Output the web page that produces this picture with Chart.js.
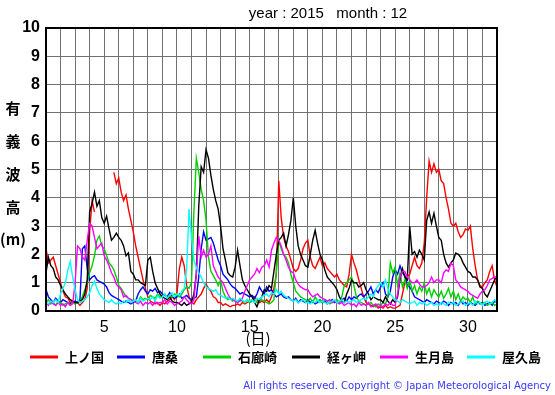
<!DOCTYPE html>
<html>
<head>
<meta charset="utf-8">
<script src="https://cdn.jsdelivr.net/npm/chart.js@4.4.0/dist/chart.umd.min.js"></script>
<style>
  html, body { margin: 0; padding: 0; background: #fff; }
  #wrap { width: 555px; height: 395px; position: relative; }
</style>
</head>
<body>
<div id="wrap"><canvas id="g1" width="555" height="395"></canvas></div>
<script>
// 4時間ごとの値 (1日 0時 から 32日 0時)
const stations = ['上ノ国', '唐桑', '石廊崎', '経ヶ岬', '生月島', '屋久島'];
const colors = ['#ff0000', '#0000ff', '#00d000', '#000000', '#ff00ff', '#00ffff'];
const yTicks = [0, 1, 2, 3, 4, 5, 6, 7, 8, 9, 10];
const xTickLabels = [5, 10, 15, 20, 25, 30];

const kaminokuni = [
  2.2, 1.7, 1.8, 1.9, 1.6, 1.3,
  1.0, 0.7, 0.5, 0.45, 0.3, 0.35,
  0.25, 0.3, 0.2, 0.3, 0.4, 0.8,
  2.8, 3.9, 3.5, null, null, null,
  null, null, null, null, 4.9, 4.5,
  4.7, 4.2, 3.9, 4.1, 3.6, 3.2,
  2.8, 2.3, 1.9, 1.5, 1.1, 0.8,
  0.5, 0.35, 0.3, 0.25, 0.3, 0.2,
  0.3, 0.25, 0.35, 0.4, 0.5, 0.4,
  0.6, 1.5, 1.9, 1.6, 0.9, 0.5,
  0.3, 0.25, 0.4, 0.5, 0.6, 0.8,
  0.95, 0.8, 0.7, 0.5, 0.45, 0.3,
  0.3, 0.2, 0.25, 0.2, 0.15, 0.2,
  0.2, 0.25, 0.2, 0.3, 0.25, 0.3,
  0.35, 0.4, 0.5, 0.4, 0.3, 0.35,
  0.3, 0.4, 0.3, 0.5, 0.8, 1.3,
  4.6, 3.3, 2.6, 2.3, 2.1, 1.8,
  1.5, 1.4, 1.5, 1.8, 2.2, 2.4,
  2.5, 1.9, 1.6, 1.5, 1.7, 1.9,
  1.6, 1.7, 1.5, 1.4, 1.3, 1.2,
  1.3, 1.1, 1.0, 0.9, 0.85, 1.3,
  2.0, 1.7, 1.45, 1.1, 0.8, 0.5,
  0.3, 0.25, 0.2, 0.15, 0.2, 0.1,
  0.15, 0.1, 0.2, 0.1, 0.15, 0.1,
  0.1, 0.15, 0.2, 0.6, 1.0, 1.2,
  1.3, 1.6, 1.9, 1.6, 1.5, 1.7,
  2.4, 4.0, 5.3, 4.9, 5.2, 4.9,
  5.0, 4.6, 4.5, 4.0, 3.6, 3.1,
  3.0, 3.1, 2.8, 2.6, 2.7, 2.9,
  2.85, 3.0, 2.2, 1.6, 1.1, 0.9,
  0.85, 1.0, 1.1, 1.4, 1.6, 1.1,
  0.85
];

const karakuwa = [
  0.75, 0.5, 0.4, 0.3, 0.45, 0.35,
  0.3, 0.4, 0.35, 0.3, 0.25, 0.3,
  0.35, 0.3, 0.4, 2.2, 2.3, 1.5,
  1.1, 1.2, 1.25, 1.1, 1.05, 1.0,
  0.95, 0.85, 0.65, 0.55, 0.5, 0.45,
  0.4, 0.35, 0.3, 0.35, 0.3, 0.25,
  0.3, 0.35, 0.6, 0.75, 0.85, 0.7,
  0.6, 0.75, 0.7, 0.8, 0.65, 0.7,
  0.6, 0.55, 0.5, 0.65, 0.5, 0.45,
  0.5, 0.6, 0.45, 0.5, 0.55, 0.45,
  0.4, 0.45, 0.5, 1.2, 2.2, 2.8,
  2.5, 2.55, 2.6, 2.4, 2.1, 1.8,
  1.6, 1.3, 1.2, 1.1, 0.95, 0.85,
  0.8, 0.7, 0.6, 0.65, 0.6, 0.55,
  0.5, 0.55, 0.45, 0.6, 0.85, 0.7,
  0.6, 0.85, 0.7, 0.75, 0.6, 0.5,
  0.55, 0.6, 0.5, 0.45, 0.5, 0.4,
  0.35, 0.45, 0.3, 0.4, 0.35, 0.3,
  0.4, 0.3, 0.35, 0.25, 0.3, 0.4,
  0.3, 0.35, 0.25, 0.3, 0.4, 0.3,
  0.35, 0.3, 0.4, 0.45, 0.35, 0.5,
  0.4, 0.5, 0.45, 0.55, 0.6, 0.5,
  0.6, 0.7, 0.85, 0.6, 0.75, 0.65,
  0.85, 1.0, 0.6, 0.5, 0.7, 1.2,
  1.45, 1.3, 1.6, 1.35, 1.25, 0.9,
  0.85, 0.7, 0.5, 0.45, 0.4, 0.35,
  0.3, 0.4, 0.35, 0.3, 0.25, 0.35,
  0.3, 0.25, 0.35, 0.3, 0.2, 0.3,
  0.25, 0.3, 0.2, 0.35, 0.25, 0.3,
  0.2, 0.3, 0.25, 0.2, 0.3, 0.25,
  0.3, 0.2, 0.25, 0.3, 0.2, 0.35,
  0.3
];

const irozaki = [
  0.3, 0.4, 0.25, 0.3, 0.2, 0.35,
  0.3, 0.2, 0.25, 0.3, 0.2, 0.3,
  0.25, 0.3, 0.35, 0.5, 0.75, 1.0,
  1.35, 1.6, 1.95, 2.5, 2.65, 2.3,
  2.2, 1.95, 1.7, 1.6, 1.45, 1.2,
  0.9, 0.8, 0.65, 0.5, 0.45, 0.4,
  0.35, 0.4, 0.3, 0.5, 0.4, 0.45,
  0.4, 0.55, 0.5, 0.45, 0.6, 0.5,
  0.5, 0.6, 0.45, 0.55, 0.5, 0.6,
  0.55, 0.5, 0.6, 0.75, 0.85, 0.8,
  1.0, 3.5, 5.4, 4.9, 4.3, 3.9,
  3.2, 1.9, 1.4, 1.25, 1.1, 0.9,
  1.1, 0.7, 0.5, 0.4, 0.45, 0.35,
  0.4, 0.3, 0.4, 0.35, 0.3, 0.4,
  0.3, 0.35, 0.4, 0.3, 0.35, 0.4,
  0.35, 0.3, 0.25, 0.3, 0.4, 1.4,
  2.5, 2.2, 2.0, 1.9, 1.7, 1.3,
  1.0, 0.7, 0.6, 0.5, 0.45, 0.4,
  0.35, 0.45, 0.3, 0.5, 0.35, 0.4,
  0.3, 0.4, 0.35, 0.25, 0.3, 0.35,
  0.4, 0.3, 0.5, 0.9, 1.0, 1.1,
  1.2, 0.9, 0.5, 0.35, 0.3, 0.25,
  0.2, 0.25, 0.3, 0.2, 0.15, 0.25,
  0.2, 0.3, 0.25, 0.5, 1.7, 1.35,
  1.55, 0.9, 1.35, 0.85, 1.1, 0.8,
  1.1, 0.7, 0.9, 0.6, 0.85, 0.7,
  1.0, 0.6, 0.8, 0.5, 0.75, 0.6,
  0.5, 0.7, 0.45, 0.6, 0.8, 0.5,
  0.7, 0.4, 0.6, 0.35, 0.5, 0.4,
  0.45, 0.3, 0.5, 0.25, 0.35, 0.3,
  0.25, 0.3, 0.2, 0.25, 0.3, 0.2,
  0.25
];

const kyogamisaki = [
  1.35, 1.9, 1.6, 1.5, 1.2, 1.1,
  0.9, 0.75, 0.6, 0.5, 0.4, 0.35,
  0.3, 0.3, 0.35, 0.4, 0.6, 1.1,
  3.5, 3.8, 4.2, 3.7, 3.9, 3.3,
  3.1, 3.35, 2.9, 2.5, 2.6, 2.75,
  2.6, 2.5, 2.3, 1.95, 2.05, 1.4,
  1.3, 1.1, 1.1, 1.0, 0.95, 0.9,
  1.8, 1.9, 1.4, 1.0, 0.8, 0.6,
  0.5, 0.45, 0.4, 0.5, 0.35, 0.3,
  0.3, 0.25, 0.2, 0.3, 0.2, 0.25,
  0.3, 0.6, 1.3, 3.7, 5.1, 4.9,
  5.7, 5.4, 4.8, 4.3, 3.9, 3.6,
  3.0, 2.2, 1.8, 1.35, 1.25, 1.2,
  1.55, 2.15, 1.6, 1.1, 0.9, 0.75,
  0.6, 0.5, 0.3, 0.15, 0.4, 0.5,
  0.75, 0.7, 0.9, 0.8, 1.4, 2.0,
  2.5, 2.6, 2.75, 2.3, 2.7, 3.2,
  4.0, 3.0, 2.3, 2.0, 1.8, 1.6,
  1.55, 2.0, 2.5, 2.85, 2.4, 2.0,
  1.8, 1.45, 1.2, 1.1, 1.0, 0.9,
  0.75, 0.5, 0.35, 0.3, 0.6, 0.8,
  1.1, 1.0, 1.0, 0.85, 0.9, 1.0,
  0.75, 0.6, 0.4, 0.5, 0.45, 0.4,
  0.4, 0.3, 0.5, 0.35, 0.25, 0.4,
  0.3, 0.5, 1.1, 1.5, 1.2, 1.1,
  3.0, 2.0, 2.1, 1.9, 2.15, 2.0,
  1.8, 3.2, 3.5, 3.1, 3.45, 3.0,
  2.6, 2.5, 2.0, 1.7, 1.55, 1.7,
  1.8, 2.05, 2.0, 1.9, 1.7, 1.55,
  1.4, 1.35, 1.2, 1.2, 1.1, 0.85,
  0.8, 0.6, 0.5, 0.7, 0.9, 1.1,
  1.2
];

const ikitsuki = [
  0.3, 0.2, 0.35, 0.25, 0.2, 0.3,
  0.2, 0.25, 0.15, 0.3, 0.2, 0.25,
  1.0, 2.3, 2.2, 1.9, 1.8, 2.5,
  3.1, 3.0, 2.6, 2.2, 2.3, 2.4,
  1.95, 1.8, 1.6, 1.35, 1.2, 0.95,
  0.85, 0.75, 0.5, 0.55, 0.45, 0.4,
  0.35, 0.3, 0.25, 0.35, 0.2, 0.3,
  0.25, 0.3, 0.2, 0.35, 0.25, 0.3,
  0.3, 0.4, 0.25, 0.35, 0.3, 0.2,
  0.25, 0.3, 0.35, 0.5, 0.4, 0.3,
  0.25, 0.4, 1.3, 2.65, 1.9, 2.15,
  1.9, 2.0, 2.3, 1.6, 1.4, 1.2,
  1.1, 1.0, 0.8, 0.6, 0.45, 0.4,
  0.35, 0.3, 0.35, 0.45, 0.7, 0.9,
  1.1, 1.2, 1.3, 1.5, 1.35, 1.55,
  1.6, 1.8, 1.55, 2.15, 2.4, 2.6,
  2.5, 2.3, 2.0, 1.8, 1.55, 1.4,
  1.35, 1.1, 0.95, 0.85, 0.8, 0.75,
  0.75, 0.6, 0.5, 0.55, 0.6, 0.5,
  0.45, 0.4, 0.35, 0.4, 0.3, 0.35,
  0.3, 0.25, 0.3, 0.2, 0.25, 0.3,
  0.2, 0.25, 0.15, 0.3, 0.2, 0.25,
  0.2, 0.3, 0.15, 0.2, 0.25, 0.15,
  0.2, 0.15, 0.25, 0.2, 0.3, 0.2,
  0.2, 0.6, 1.2, 1.4, 1.4, 1.2,
  1.1, 1.0, 1.0, 1.1, 0.95, 0.85,
  0.85, 0.9, 1.0, 1.2, 1.0, 1.1,
  1.1, 1.0, 1.35, 1.45, 1.4, 1.7,
  1.6, 1.1, 1.0, 0.85, 0.8, 0.75,
  0.7, 0.6, 0.55, 0.5, 0.45, 0.6,
  0.7, 0.75, 0.9, 1.1, 1.15, 1.2,
  1.2
];

const yakushima = [
  0.3, 0.25, 0.35, 0.3, 0.4, 0.3,
  0.6, 0.8, 1.0, 1.45, 1.75, 1.2,
  0.75, 0.4, 0.3, 0.35, 0.4, 0.5,
  0.65, 0.9, 1.05, 0.8, 0.6, 0.5,
  0.4, 0.35, 0.3, 0.4, 0.3, 0.25,
  0.3, 0.25, 0.35, 0.3, 0.4, 0.3,
  0.35, 0.4, 0.3, 0.45, 0.35, 0.4,
  0.45, 0.4, 0.5, 0.35, 0.55, 0.45,
  0.5, 0.6, 0.45, 0.55, 0.65, 0.5,
  0.6, 0.55, 0.7, 0.8, 1.5, 3.6,
  2.6, 1.8, 1.55, 1.35, 1.2, 1.0,
  0.85, 0.8, 0.75, 0.7, 0.75, 0.6,
  0.55, 0.5, 0.45, 0.5, 0.4, 0.45,
  0.4, 0.35, 0.45, 0.4, 0.3, 0.4,
  0.35, 0.4, 0.3, 0.45, 0.4, 0.5,
  0.55, 0.6, 0.5, 0.65, 0.6, 0.75,
  0.6, 0.7, 0.55, 0.5, 0.45, 0.4,
  0.35, 0.4, 0.3, 0.35, 0.4, 0.3,
  0.3, 0.25, 0.35, 0.3, 0.4, 0.3,
  0.35, 0.3, 0.25, 0.3, 0.35, 0.4,
  0.3, 0.35, 0.4, 0.3, 0.35, 0.3,
  0.35, 0.4, 0.3, 0.35, 0.4, 0.45,
  0.4, 0.5, 0.6, 0.5, 0.75, 0.9,
  1.0, 0.85, 1.1, 0.8, 0.6, 0.5,
  0.4, 0.35, 0.3, 0.4, 0.35, 0.3,
  0.25, 0.3, 0.35, 0.2, 0.3, 0.25,
  0.3, 0.2, 0.25, 0.3, 0.2, 0.25,
  0.2, 0.3, 0.25, 0.2, 0.3, 0.25,
  0.3, 0.2, 0.25, 0.3, 0.35, 0.2,
  0.25, 0.3, 0.2, 0.35, 0.25, 0.3,
  0.2, 0.3, 0.35, 0.25, 0.3, 0.4,
  0.3
];

const series = [kaminokuni, karakuwa, irozaki, kyogamisaki, ikitsuki, yakushima];

// 4時間 = 1/6 日
function toPoints(values) {
  return values.map((v, i) => ({ x: 1 + i / 6, y: v }));
}

const datasets = series.map((values, k) => ({
  label: stations[k],
  data: toPoints(values),
  borderColor: colors[k],
  backgroundColor: colors[k],
  borderWidth: 1.4,
  pointRadius: 0,
  tension: 0,
  spanGaps: false,
  order: series.length - k
}));

// 枠・タイトル・凡例などの文字
const decorations = {
  id: 'decorations',
  afterDraw(chart) {
    const c = chart.ctx;
    const a = chart.chartArea;
    c.save();
    c.strokeStyle = '#000';
    c.lineWidth = 2;
    c.strokeRect(a.left, a.top, a.right - a.left, a.bottom - a.top);

    c.fillStyle = '#000';
    c.textBaseline = 'middle';
    c.textAlign = 'center';
    c.font = '15px "Liberation Sans", Arial, sans-serif';
    c.fillText('year : 2015   month : 12', 328, 14);

    c.font = 'bold 15px "Noto Sans CJK JP", sans-serif';
    const yTitle = ['有', '義', '波', '高'];
    const yPos = [108, 141, 174, 207];
    yTitle.forEach((ch, i) => c.fillText(ch, 13, yPos[i]));
    c.fillText('(m)', 13, 239);

    c.font = '15px "Noto Sans CJK JP", sans-serif';
    c.fillText('(日)', 258, 338);

    // 凡例
    const lineX = [30, 117, 203, 292, 380, 467];
    c.textAlign = 'left';
    c.font = 'bold 13px "Noto Sans CJK JP", sans-serif';
    stations.forEach((name, k) => {
      c.strokeStyle = colors[k];
      c.lineWidth = 3;
      c.beginPath();
      c.moveTo(lineX[k], 357);
      c.lineTo(lineX[k] + 28, 357);
      c.stroke();
      c.fillStyle = '#000';
      c.fillText(name, lineX[k] + 35, 357);
    });

    c.fillStyle = '#3838ff';
    c.textAlign = 'right';
    c.font = '10px "DejaVu Sans", sans-serif';
    c.fillText('All rights reserved. Copyright \u00a9 Japan Meteorological Agency', 551, 386, 310);
    c.restore();
  }
};

new Chart(document.getElementById('g1').getContext('2d'), {
  type: 'line',
  data: { datasets: datasets },
  options: {
    responsive: false,
    animation: false,
    layout: { padding: { left: 0, right: 58, top: 28, bottom: 54 } },
    plugins: {
      legend: { display: false },
      title: { display: false },
      tooltip: { enabled: false }
    },
    scales: {
      x: {
        type: 'linear',
        min: 1,
        max: 32,
        afterFit: (axis) => { axis.height = 30; axis.paddingLeft = 0; axis.paddingRight = 0; },
        grid: { color: '#707070', lineWidth: 1, drawTicks: false },
        border: { display: false },
        ticks: {
          stepSize: 1,
          autoSkip: false,
          maxRotation: 0,
          padding: 7,
          color: '#000',
          font: { family: '"Liberation Sans", Arial, sans-serif', size: 16 },
          callback: (value) => xTickLabels.includes(value) ? String(value) : ''
        }
      },
      y: {
        min: 0,
        max: 10,
        afterFit: (axis) => { axis.width = 46; },
        grid: { color: '#707070', lineWidth: 1, drawTicks: false },
        border: { display: false },
        ticks: {
          stepSize: 1,
          padding: 6,
          color: '#000',
          font: { family: '"Liberation Sans", Arial, sans-serif', size: 16, weight: 'bold' },
          callback: (value) => yTicks.includes(value) ? String(value) : ''
        }
      }
    }
  },
  plugins: [decorations]
});
</script>
</body>
</html>
